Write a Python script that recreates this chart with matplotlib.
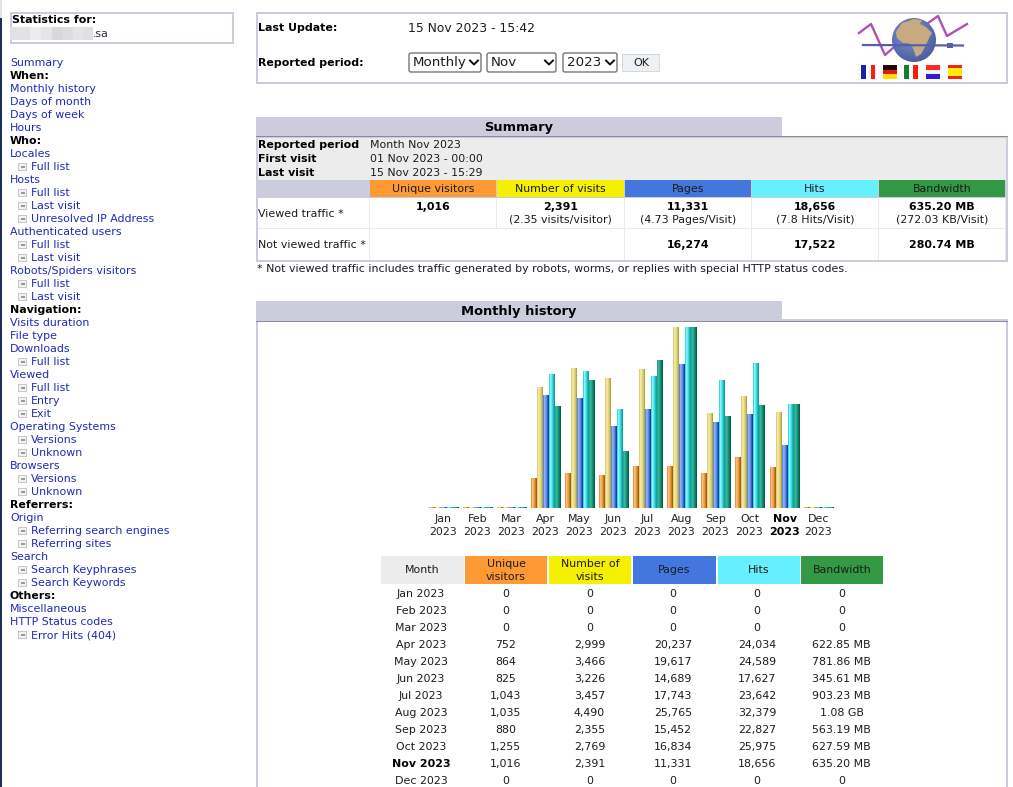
import numpy as np
import matplotlib
matplotlib.use("Agg")
import matplotlib.pyplot as plt
from matplotlib.patches import Rectangle, Ellipse, Polygon, FancyBboxPatch

# ---------- data ----------
months = ["Jan", "Feb", "Mar", "Apr", "May", "Jun", "Jul", "Aug", "Sep", "Oct", "Nov", "Dec"]
year = "2023"
current_month = "Nov"
visitors = [0, 0, 0, 752, 864, 825, 1043, 1035, 880, 1255, 1016, 0]
visits = [0, 0, 0, 2999, 3466, 3226, 3457, 4490, 2355, 2769, 2391, 0]
pages = [0, 0, 0, 20237, 19617, 14689, 17743, 25765, 15452, 16834, 11331, 0]
hits = [0, 0, 0, 24034, 24589, 17627, 23642, 32379, 22827, 25975, 18656, 0]
bandwidth_mb = [0, 0, 0, 622.85, 781.86, 345.61, 903.23, 1105.92, 563.19, 627.59, 635.20, 0]
bandwidth_labels = ["0", "0", "0", "622.85 MB", "781.86 MB", "345.61 MB", "903.23 MB",
                    "1.08 GB", "563.19 MB", "627.59 MB", "635.20 MB", "0"]

sidebar_items = [
    ("l", "Summary"), ("h", "When:"), ("l", "Monthly history"), ("l", "Days of month"),
    ("l", "Days of week"), ("l", "Hours"), ("h", "Who:"), ("l", "Locales"), ("s", "Full list"),
    ("l", "Hosts"), ("s", "Full list"), ("s", "Last visit"), ("s", "Unresolved IP Address"),
    ("l", "Authenticated users"), ("s", "Full list"), ("s", "Last visit"),
    ("l", "Robots/Spiders visitors"), ("s", "Full list"), ("s", "Last visit"),
    ("h", "Navigation:"), ("l", "Visits duration"), ("l", "File type"), ("l", "Downloads"),
    ("s", "Full list"), ("l", "Viewed"), ("s", "Full list"), ("s", "Entry"), ("s", "Exit"),
    ("l", "Operating Systems"), ("s", "Versions"), ("s", "Unknown"), ("l", "Browsers"),
    ("s", "Versions"), ("s", "Unknown"), ("h", "Referrers:"), ("l", "Origin"),
    ("s", "Referring search engines"), ("s", "Referring sites"), ("l", "Search"),
    ("s", "Search Keyphrases"), ("s", "Search Keywords"), ("h", "Others:"),
    ("l", "Miscellaneous"), ("l", "HTTP Status codes"), ("s", "Error Hits (404)"),
]

# ---------- styles ----------
FS = 7.9
BORDER = "#ccccdd"
LINK = "#1f2bb8"
C_ORANGE, C_YELLOW, C_BLUE, C_CYAN, C_GREEN = "#ff9933", "#f4f000", "#4477dd", "#66f0ff", "#339944"
bar_strips = [
    ["#e89a48", "#f6c07c", "#f2b060", "#e89a40", "#cc7c24", "#a86010"],
    ["#dccf78", "#f2eaa4", "#eee294", "#e2d67c", "#d2c464", "#b4a444"],
    ["#5a88e4", "#8ab0f4", "#7aa4f0", "#5a88e4", "#3a60c8", "#1c3ca0"],
    ["#40d8e0", "#88f6f6", "#60ecf0", "#38d8e0", "#20b8c0", "#10a0a8"],
    ["#28a888", "#38b498", "#28a88c", "#189078", "#0c7c60", "#046048"],
]

plt.rcParams["font.family"] = ["DejaVu Sans"]
fig = plt.figure(figsize=(10.13, 7.87), dpi=100, facecolor="white")
ax = fig.add_axes([0, 0, 1, 1])
ax.set_xlim(0, 1013)
ax.set_ylim(787, 0)
ax.axis("off")


def rect(x0, y0, x1, y1, color, z=1):
    ax.add_patch(Rectangle((x0, y0), x1 - x0, y1 - y0, facecolor=color, edgecolor="none",
                           linewidth=0, antialiased=False, zorder=z))


def frame(x0, y0, x1, y1, color=BORDER, w=2, z=2):
    rect(x0, y0, x1, y0 + w, color, z)
    rect(x0, y1 - w, x1, y1, color, z)
    rect(x0, y0, x0 + w, y1, color, z)
    rect(x1 - w, y0, x1, y1, color, z)


def txt(x, y, s, ha="left", bold=False, color="#1c1c1c", size=FS, z=5):
    ax.text(x, y, s, ha=ha, va="center", fontsize=size, color=color,
            fontweight="bold" if bold else "normal", zorder=z)


# ---------- sidebar ----------
rect(0, 0, 2, 18, "#e4e4e4")
rect(0, 18, 2, 787, "#1c2f5c")
frame(10, 12, 234, 44)
txt(12, 20, "Statistics for:", bold=True, color="#000000")
for x0, x1, c in [(10, 30, "#e2e2e2"), (30, 41, "#ececec"), (41, 52, "#e6e6e6"),
                  (52, 63, "#d8d8d8"), (63, 73, "#dddddd"), (73, 83, "#e4e4e4"), (83, 93, "#e0e0e0")]:
    rect(x0, 27, x1, 40, c, 3)
txt(93, 34, ".sa", color="#333333")

for i, (kind, label) in enumerate(sidebar_items):
    y = 63 + 13 * i
    if kind == "h":
        txt(10, y, label, bold=True, color="#000000")
    elif kind == "l":
        txt(10, y, label, color=LINK)
    else:
        rect(18, y - 4, 27, y + 4, "#c8c8c8", 3)
        rect(19, y - 3, 26, y + 3, "#f2f2f2", 3)
        rect(21, y - 1, 25, y + 1, "#9a9a9a", 4)
        txt(31, y, label, color=LINK)

# ---------- top box ----------
frame(256, 12, 1008, 84)
txt(258, 28, "Last Update:", bold=True, color="#000000")
txt(408, 28, "15 Nov 2023 - 15:42", size=8.95)
txt(258, 63, "Reported period:", bold=True, color="#000000")
for x0, x1, s in [(408, 482, "Monthly"), (486, 557, "Nov"), (562, 618, "2023")]:
    ax.add_patch(FancyBboxPatch((x0 + 1, 53), x1 - x0 - 2, 19, boxstyle="round,pad=0,rounding_size=2",
                                facecolor="white", edgecolor="#767676", linewidth=1, zorder=2))
    txt(x0 + 5, 62.5, s, size=9.6)
    ax.plot([x1 - 12, x1 - 8, x1 - 4], [60.5, 64.5, 60.5], color="#111111", lw=1.4, zorder=5)
rect(622, 54, 660, 72, "#eef0f2", 1)
frame(622, 54, 660, 72, "#d0d8e0", 1)
txt(641, 63, "OK", ha="center", size=8.0)

# logo
ax.plot([859, 871, 885, 893, 938, 947, 967],
        [33, 24, 55, 48, 16, 36, 24], color="#b050b0", lw=1.7, zorder=3)
shade = np.zeros((60, 60, 4))
yy, xx = np.mgrid[0:60, 0:60] / 59.0
d = np.clip(1 - np.hypot(xx - 0.42, yy - 0.35) / 0.85, 0, 1)
base_light, base_dark = np.array([0.50, 0.60, 0.86]), np.array([0.24, 0.30, 0.55])
shade[..., :3] = base_dark[None, None] + (base_light - base_dark)[None, None] * d[..., None]
shade[..., 3] = 1
im = ax.imshow(shade, extent=(892, 936, 62, 18), aspect="auto", zorder=4, interpolation="bilinear")
globe = Ellipse((914, 40), 44, 44, transform=ax.transData, facecolor="none", edgecolor="none")
ax.add_patch(globe)
im.set_clip_path(globe)
ax.set_xlim(0, 1013)
ax.set_ylim(787, 0)
ax.add_patch(Polygon([(902, 23), (909, 21), (913, 19), (922, 20), (920, 24), (926, 27), (932, 33),
                      (929, 38), (926, 45), (921, 54), (916, 57), (913, 48), (909, 43), (903, 43),
                      (897, 38), (896, 32)],
                     closed=True, facecolor="#c8aa80", edgecolor="none", zorder=4.2))
ax.plot([863, 963], [45, 45.5], color="#5560a8", lw=1.6, zorder=4.5)
rect(947, 43, 953, 48, "#5560a8", 4.6)
flag_y0, flag_y1 = 65, 79
rect(861, flag_y0, 866, flag_y1, "#1a22a8", 3); rect(871, flag_y0, 875, flag_y1, "#ff1a10", 3)
for i, c in enumerate(["#1a0a0a", "#e01a10", "#ffdd00"]):
    rect(883, flag_y0 + i * 14 / 3, 897, flag_y0 + (i + 1) * 14 / 3, c, 3)
rect(904, flag_y0, 909, flag_y1, "#108030", 3); rect(913, flag_y0, 918, flag_y1, "#ff1a10", 3)
for i, c in enumerate(["#ff2a20", "#f4f4f4", "#3018e0"]):
    rect(926, flag_y0 + i * 14 / 3, 940, flag_y0 + (i + 1) * 14 / 3, c, 3)
for y0, y1, c in [(65, 68, "#f02818"), (68, 76, "#ffee00"), (76, 79, "#f02818")]:
    rect(948, y0, 962, y1, c, 3)

# ---------- summary ----------
rect(256, 117, 782, 136, BORDER)
rect(256, 136, 1008, 262, BORDER)
rect(256, 136, 1008, 137, "#8a8a9a", 2)
rect(258, 138, 1006, 180, "#ececec", 2)
txt(519, 127, "Summary", ha="center", bold=True, color="#000000", size=9.4)
for y, a, b in [(145, "Reported period", "Month Nov 2023"),
                (159, "First visit", "01 Nov 2023 - 00:00"),
                (173, "Last visit", "15 Nov 2023 - 15:29")]:
    txt(258, y, a, bold=True, color="#000000")
    txt(370, y, b)
summary_cols = [(370, 497, C_ORANGE, "Unique visitors"), (497, 625, C_YELLOW, "Number of visits"),
                (625, 752, C_BLUE, "Pages"), (752, 879, C_CYAN, "Hits"), (879, 1006, C_GREEN, "Bandwidth")]
rect(258, 180, 370, 197, BORDER, 2)
rect(258, 198, 1006, 260, "#eaeaea", 2)
rect(258, 198, 369, 228, "white", 3)
rect(258, 229, 369, 260, "white", 3)
for x0, x1, c, label in summary_cols:
    rect(x0, 180, x1 - 1, 197, c, 2)
    txt((x0 + x1 - 1) / 2, 189, label, ha="center")
    rect(x0, 198, x1 - 1, 228, "white", 3)
rect(370, 229, 624, 260, "white", 3)
for x0, x1 in [(625, 751), (752, 878), (879, 1005)]:
    rect(x0, 229, x1, 260, "white", 3)
txt(258, 214, "Viewed traffic *")
txt(258, 245, "Not viewed traffic *")
summary_main = ["1,016", "2,391", "11,331", "18,656", "635.20 MB"]
summary_sub = ["", "(2.35 visits/visitor)", "(4.73 Pages/Visit)", "(7.8 Hits/Visit)", "(272.03 KB/Visit)"]
summary_not = ["", "", "16,274", "17,522", "280.74 MB"]
for (x0, x1, _, _), a, b, c in zip(summary_cols, summary_main, summary_sub, summary_not):
    cx = (x0 + x1 - 1) / 2
    txt(cx, 207, a, ha="center", bold=True, color="#000000")
    if b:
        txt(cx, 220, b, ha="center")
    if c:
        txt(cx, 245, c, ha="center", bold=True, color="#000000")
txt(257, 269, "* Not viewed traffic includes traffic generated by robots, worms, or replies with special HTTP status codes.")

# ---------- monthly history ----------
rect(256, 301, 782, 320, BORDER)
rect(256, 319, 1008, 322, BORDER)
rect(256, 321, 1008, 322, "#8a8a9a", 2)
rect(256, 322, 258, 787, BORDER, 2)
rect(1006, 322, 1008, 787, BORDER, 2)
txt(519, 311, "Monthly history", ha="center", bold=True, color="#000000", size=9.4)

# chart: one axes with x in page pixels, y as fraction of each series' scale
BASE, TOP = 508, 327
axc = fig.add_axes([429 / 1013, 1 - BASE / 787, 412 / 1013, (BASE - TOP) / 787])
axc.set_xlim(429, 841)
axc.set_ylim(0, BASE - TOP)
axc.axis("off")
axc.patch.set_alpha(0)
max_v = max(visits)
max_h = max(hits)
max_b = max(bandwidth_mb)
series = [(visitors, max_v), (visits, max_v), (pages, max_h), (hits, max_h), (bandwidth_mb, max_b)]
for m in range(len(months)):
    left = 429 + 34 * m + (1 if m >= 10 else 0)
    for s, (vals, scale) in enumerate(series):
        h = max(vals[m] / scale * (BASE - TOP), 1)
        for k, col in enumerate(bar_strips[s]):
            axc.bar(left + s * 6 + k, h, width=1, align="edge", color=col,
                    linewidth=0, antialiased=False)

for m, name in enumerate(months):
    cx = 443.5 + 34 * m + (1 if m >= 10 else 0)
    b = name == current_month
    txt(cx, 519, name, ha="center", bold=b, color="#000000" if b else "#222222")
    txt(cx, 532, year, ha="center", bold=b, color="#000000" if b else "#222222")

# table
table_cols = [(381, 464, "#ececec", ["Month"]), (465, 547, C_ORANGE, ["Unique", "visitors"]),
              (549, 631, C_YELLOW, ["Number of", "visits"]), (633, 716, C_BLUE, ["Pages"]),
              (718, 800, C_CYAN, ["Hits"]), (801, 883, C_GREEN, ["Bandwidth"])]
for x0, x1, c, lines in table_cols:
    rect(x0, 556, x1, 584, c, 2)
    cx = (x0 + x1) / 2
    if len(lines) == 1:
        txt(cx, 570, lines[0], ha="center")
    else:
        txt(cx, 564, lines[0], ha="center")
        txt(cx, 577, lines[1], ha="center")

for m, name in enumerate(months):
    y = 594 + 17 * m
    b = name == current_month
    txt(421, y, f"{name} {year}", ha="center", bold=b, color="#000000" if b else "#1c1c1c")
    row = [f"{visitors[m]:,}", f"{visits[m]:,}", f"{pages[m]:,}", f"{hits[m]:,}", bandwidth_labels[m]]
    for cx, v in zip([505.5, 589.5, 673, 757, 841.5], row):
        txt(cx, y, v, ha="center")

fig.savefig("out.png", dpi=100, facecolor="white")
